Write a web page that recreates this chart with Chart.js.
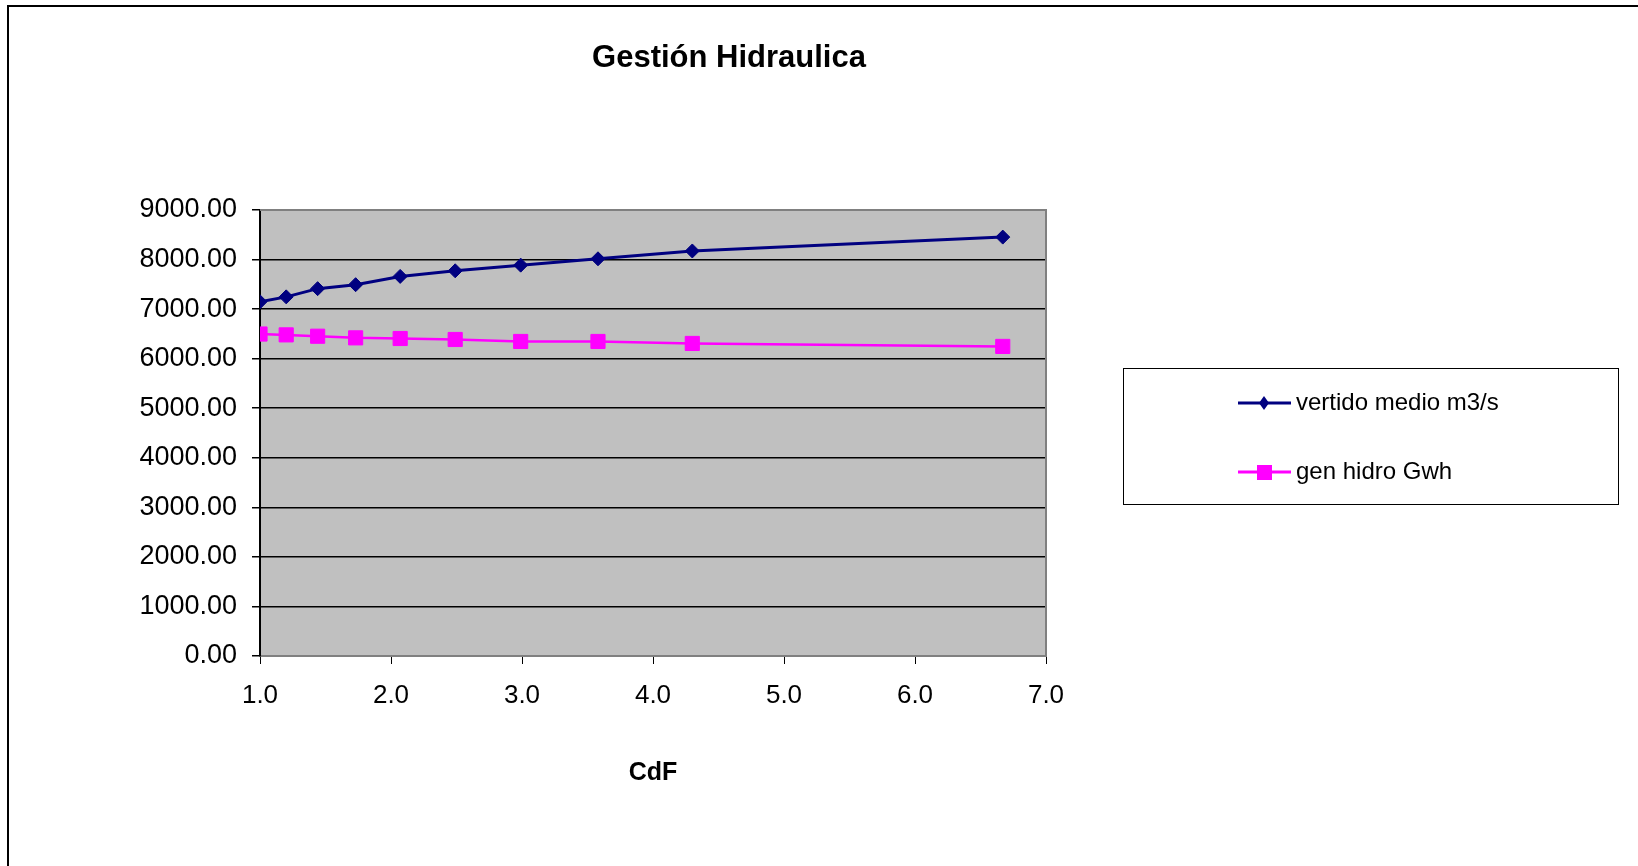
<!DOCTYPE html>
<html>
<head>
<meta charset="utf-8">
<script src="https://cdn.jsdelivr.net/npm/chart.js@4.4.0/dist/chart.umd.min.js"></script>
<style>
html, body { margin: 0; padding: 0; background: #fff; overflow: hidden; }
#frame { position: absolute; left: 7px; top: 5px; width: 1660px; height: 900px; border-top: 2px solid #000; border-left: 2px solid #000; }
#wrap { position: absolute; left: 0; top: 0; width: 1638px; height: 866px; }
</style>
</head>
<body>
<div id="frame"></div>
<div id="wrap"><canvas id="chart" width="1638" height="866"></canvas></div>
<script>
// CdF values (x) and the two series
var cdf = [1.0, 1.2, 1.44, 1.73, 2.07, 2.49, 2.99, 3.58, 4.30, 6.67];
var vertido = [7147, 7247, 7413, 7493, 7660, 7773, 7887, 8015, 8173, 8453];
var genHidro = [6497, 6480, 6453, 6420, 6407, 6387, 6347, 6347, 6307, 6247];
var seriesNames = ['vertido medio m3/s', 'gen hidro Gwh'];
var chartTitle = 'Gestión Hidraulica';
var xTitle = 'CdF';

var FONT = '"Liberation Sans", Arial, sans-serif';

function toPoints(xs, ys) {
    return xs.map(function (x, i) { return { x: x, y: ys[i] }; });
}

// grey plot background
var plotBg = {
    id: 'plotBg',
    beforeDraw: function (chart) {
        var a = chart.chartArea, ctx = chart.ctx;
        ctx.save();
        ctx.fillStyle = '#c0c0c0';
        ctx.fillRect(a.left, a.top, a.right - a.left, a.bottom - a.top);
        ctx.restore();
    },
    beforeDatasetsDraw: function (chart) {
        var a = chart.chartArea, ctx = chart.ctx;
        ctx.save();
        ctx.strokeStyle = '#808080';
        ctx.lineWidth = 2;
        ctx.beginPath();
        ctx.moveTo(a.left, a.top);
        ctx.lineTo(a.right, a.top);
        ctx.lineTo(a.right, a.bottom);
        ctx.stroke();
        ctx.restore();
    }
};

// title and boxed legend, placed like the original sheet
var sheetDeco = {
    id: 'sheetDeco',
    afterDraw: function (chart) {
        var ctx = chart.ctx;
        ctx.save();
        ctx.fillStyle = '#000';
        ctx.font = 'bold 31px ' + FONT;
        ctx.textAlign = 'center';
        ctx.textBaseline = 'middle';
        ctx.fillText(chartTitle, 729, 58);

        ctx.strokeStyle = '#000';
        ctx.lineWidth = 1;
        ctx.strokeRect(1123.5, 368.5, 495, 136);

        var rows = [403, 472];
        chart.data.datasets.forEach(function (ds, i) {
            var y = rows[i];
            ctx.strokeStyle = ds.borderColor;
            ctx.lineWidth = 3;
            ctx.beginPath();
            ctx.moveTo(1238, y);
            ctx.lineTo(1291, y);
            ctx.stroke();
            ctx.fillStyle = ds.pointBackgroundColor;
            ctx.beginPath();
            if (ds.pointStyle === 'rectRot') {
                ctx.moveTo(1264, y - 7);
                ctx.lineTo(1269, y);
                ctx.lineTo(1264, y + 7);
                ctx.lineTo(1259, y);
            } else {
                ctx.rect(1257, y - 7, 15, 15);
            }
            ctx.closePath();
            ctx.fill();
            ctx.fillStyle = '#000';
            ctx.font = '24px ' + FONT;
            ctx.textAlign = 'left';
            ctx.textBaseline = 'middle';
            ctx.fillText(ds.label, 1296, y);
        });
        ctx.restore();
    }
};

var ctx = document.getElementById('chart');
const chart = new Chart(ctx, {
    type: 'line',
    data: {
        datasets: [
            {
                label: seriesNames[0],
                data: toPoints(cdf, vertido),
                borderColor: '#000080',
                backgroundColor: '#000080',
                pointBackgroundColor: '#000080',
                pointBorderColor: '#000080',
                borderWidth: 3,
                pointStyle: 'rectRot',
                pointRadius: 7,
                pointBorderWidth: 1,
                tension: 0
            },
            {
                label: seriesNames[1],
                data: toPoints(cdf, genHidro),
                borderColor: '#ff00ff',
                backgroundColor: '#ff00ff',
                pointBackgroundColor: '#ff00ff',
                pointBorderColor: '#ff00ff',
                borderWidth: 2.5,
                pointStyle: 'rect',
                pointRadius: 10,
                pointBorderWidth: 1,
                tension: 0
            }
        ]
    },
    options: {
        responsive: false,
        animation: false,
        layout: { padding: { top: 210, right: 592, bottom: 60, left: 0 } },
        plugins: {
            legend: { display: false },
            title: { display: false },
            tooltip: { enabled: false }
        },
        scales: {
            x: {
                type: 'linear',
                min: 1,
                max: 7,
                afterFit: function (s) { s.height = 150; },
                ticks: {
                    stepSize: 1,
                    padding: 16,
                    color: '#000',
                    font: { family: FONT, size: 26 },
                    callback: function (v) { return Number(v).toFixed(1); }
                },
                grid: { drawOnChartArea: false, tickLength: 8, tickColor: '#000' },
                border: { color: '#808080', width: 2 },
                title: {
                    display: true,
                    text: xTitle,
                    color: '#000',
                    font: { family: FONT, size: 25, weight: 'bold' },
                    padding: { top: 0, bottom: 18 }
                }
            },
            y: {
                min: 0,
                max: 9000,
                afterFit: function (s) { s.width = 260; },
                ticks: {
                    stepSize: 1000,
                    padding: 15,
                    color: '#000',
                    font: { family: FONT, size: 27 },
                    callback: function (v) { return Number(v).toFixed(2); }
                },
                grid: {
                    tickLength: 8,
                    tickColor: '#000',
                    lineWidth: 1.5,
                    color: function (c) {
                        var v = c.tick ? c.tick.value : null;
                        return (v === 0 || v === 9000) ? '#808080' : '#000';
                    }
                },
                border: { color: '#000', width: 2 }
            }
        }
    },
    plugins: [plotBg, sheetDeco]
});
</script>
</body>
</html>
